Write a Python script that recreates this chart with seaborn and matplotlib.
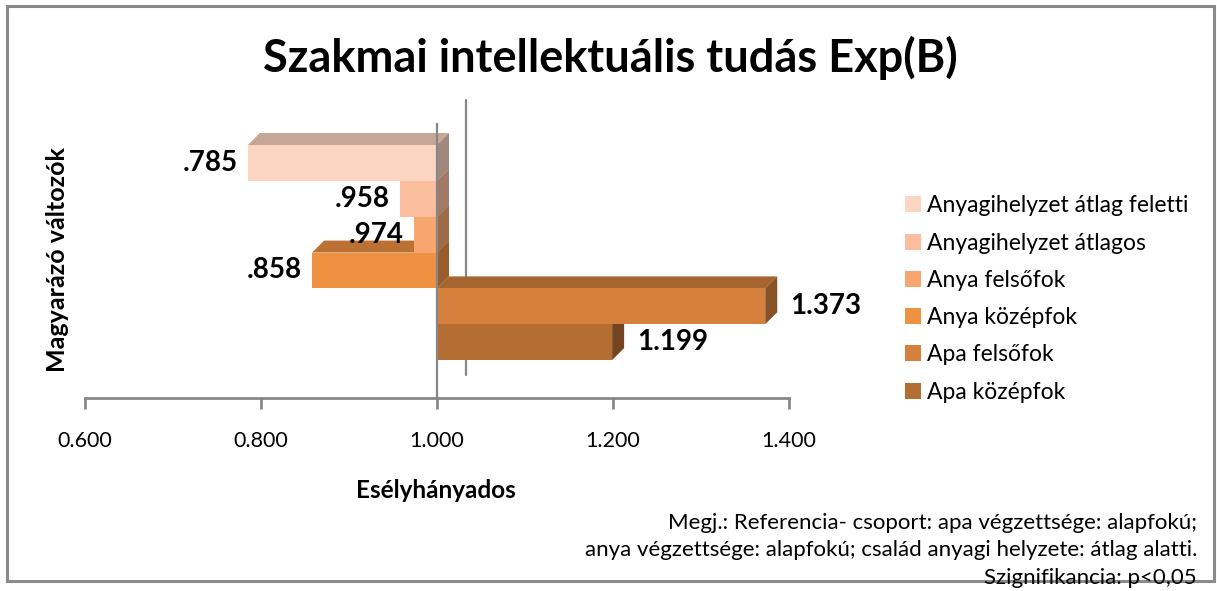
import numpy as np
import pandas as pd
import matplotlib
matplotlib.use("Agg")
import matplotlib.pyplot as plt
import matplotlib.transforms as mtransforms
from matplotlib.patches import Polygon, Rectangle, Patch
from matplotlib.lines import Line2D
import seaborn as sns

# ---- data ----
series = ["Anyagihelyzet átlag feletti", "Anyagihelyzet átlagos", "Anya felsőfok",
          "Anya középfok", "Apa felsőfok", "Apa középfok"]
values = [0.785, 0.958, 0.974, 0.858, 1.373, 1.199]
colors = ["#FCD5C2", "#FABE9F", "#F8A66F", "#EE9141", "#D5803C", "#B46E33"]
xticks = [0.6, 0.8, 1.0, 1.2, 1.4]
xtick_labels = ["0.600", "0.800", "1.000", "1.200", "1.400"]
baseline = 1.0
title = "Szakmai intellektuális tudás Exp(B)"
xlabel = "Esélyhányados"
ylabel = "Magyarázó változók"
note_lines = ["Megj.: Referencia- csoport: apa végzettsége: alapfokú;",
              "anya végzettsége: alapfokú; család anyagi helyzete: átlag alatti.",
              "Szignifikancia: p<0,05"]

sns.set_theme(style="white")
plt.rcParams["font.family"] = ["Lato", "DejaVu Sans"]
plt.rcParams["text.color"] = "black"
plt.rcParams["xtick.color"] = "black"

W, H = 1217, 591
fig = plt.figure(figsize=(W / 100, H / 100), dpi=100)
ax = fig.add_axes([85 / W, (H - 398) / H, (789 - 85) / W, (398 - 123) / H])

df = pd.DataFrame({"group": [""] * len(series), "series": series, "value": values})
sns.barplot(data=df, x="value", y="group", hue="series", hue_order=series,
            palette=colors, saturation=1, errorbar=None, width=0.8, orient="h",
            legend=False, ax=ax, linewidth=0)

ax.set_xlim(0.6, 1.4)
ax.set_ylim(0.541, -0.482)
fig.canvas.draw()

# pixel -> data scales (derived from axes size)
bb = ax.get_window_extent()
px_x = (ax.get_xlim()[1] - ax.get_xlim()[0]) / bb.width
px_y = abs(ax.get_ylim()[0] - ax.get_ylim()[1]) / bb.height
dx, dy = 12 * px_x, 12 * px_y


def shade(c, f):
    r, g, b = matplotlib.colors.to_rgb(c)
    return (r * f, g * f, b * f)


patches = list(ax.patches)
n = len(patches)
for i, p in enumerate(patches):
    v = p.get_width()
    p.set_x(baseline)
    p.set_width(v - baseline)
    z = 10 + (n - i) * 3
    p.set_zorder(z + 2)
    left, right = min(baseline, v), max(baseline, v)
    top, bottom = p.get_y(), p.get_y() + p.get_height()
    col = colors[i]
    topface = Polygon([(left, top), (right, top), (right + dx, top - dy), (left + dx, top - dy)],
                      closed=True, facecolor=shade(col, 0.78), edgecolor="none", zorder=z)
    side = Polygon([(right, top), (right, bottom), (right + dx, bottom - dy), (right + dx, top - dy)],
                   closed=True, facecolor=shade(col, 0.64), edgecolor="none", zorder=z + 1)
    ax.add_patch(topface)
    ax.add_patch(side)
    yc = (top + bottom) / 2
    txt = f"{v:.3f}"
    if v < 1:
        txt = txt.lstrip("0")
        ax.annotate(txt, (left, yc), xytext=(-10, 0), textcoords="offset pixels",
                    ha="right", va="center", fontsize=20, fontweight="bold", color="black",
                    zorder=100)
    else:
        ax.annotate(txt, (right, yc), xytext=(25, 0), textcoords="offset pixels",
                    ha="left", va="center", fontsize=20, fontweight="bold", color="black",
                    zorder=100)

# walls: front line at baseline, back line offset in depth
grey = "#878787"
ax.axvline(baseline, color=grey, lw=1.6, zorder=90)
back = Line2D([baseline, baseline], [0, 1], color=grey, lw=1.6, zorder=5,
              transform=ax.get_xaxis_transform() + mtransforms.ScaledTranslation(29 / 100, 23 / 100, fig.dpi_scale_trans),
              clip_on=False)
ax.add_line(back)

ax.set_xlim(0.6, 1.4)
ax.set_ylim(0.541, -0.482)
ax.set_xticks(xticks)
ax.set_xticklabels(xtick_labels, fontsize=15.5, color="black")
ax.set_yticks([])
ax.set_xlabel("")
ax.set_ylabel("")
for s in ["top", "right", "left"]:
    ax.spines[s].set_visible(False)
ax.spines["bottom"].set_color(grey)
ax.spines["bottom"].set_linewidth(2)
ax.tick_params(axis="x", direction="out", length=8, width=2, color=grey, pad=16, bottom=True,
               labelcolor="black")
ax.patch.set_alpha(0)

fig.text(610 / W, 1 - 58 / H, title, ha="center", va="center", fontsize=32.5,
         fontweight="bold", color="black")
fig.text(436 / W, 1 - 490 / H, xlabel, ha="center", va="center", fontsize=17.5,
         fontweight="bold", color="black")
fig.text(58 / W, 1 - 260 / H, ylabel, ha="center", va="center", fontsize=18,
         fontweight="bold", rotation=90, color="black")
for k, line in enumerate(note_lines):
    fig.text(1197 / W, 1 - (523 + 27.5 * k) / H, line, ha="right", va="center",
             fontsize=16, color="black")

handles = [Patch(facecolor=c, edgecolor="none") for c in colors]
fig.legend(handles, series, loc="center left", bbox_to_anchor=(905 / W, 1 - 299 / H),
           frameon=False, fontsize=16.5, handlelength=0.7, handleheight=0.7,
           handletextpad=0.28, labelspacing=0.71, borderaxespad=0, borderpad=0,
           labelcolor="black")

fig.patches.append(Rectangle((7 / W, 1 - 581 / H), (1214 - 7) / W, (581 - 6) / H,
                             transform=fig.transFigure, fill=False, edgecolor="#8a8a8a", lw=2.2))

fig.savefig("out.png", dpi=100)
